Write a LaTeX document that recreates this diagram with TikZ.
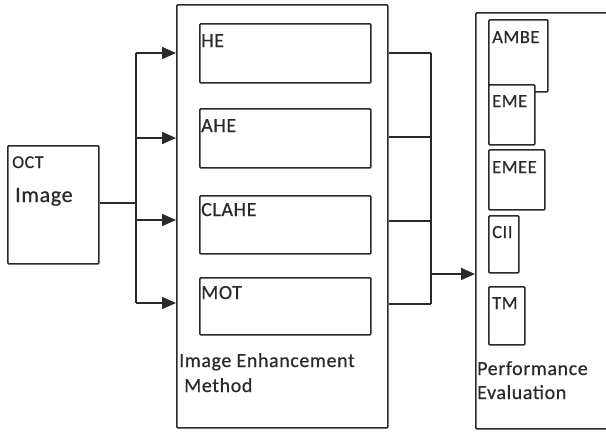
\documentclass[tikz,border=0pt]{standalone}
\usepackage{fontspec}
\setmainfont{Carlito}[LetterSpace=3,FakeBold=0.6]
\usetikzlibrary{arrows.meta}
\definecolor{ln}{HTML}{2A2A2A}
\tikzset{
  box/.style={draw=ln, line width=1.7pt, rounded corners=1pt, inner sep=0pt, anchor=north west},
  lbl/.style={anchor=base west, inner sep=0pt, text=ln, font=\fontsize{20}{23}\selectfont},
  sml/.style={lbl, font=\fontsize{18.5}{21}\selectfont},
  wire/.style={draw=ln, line width=1.7pt},
  arr/.style={wire, -{Triangle[length=14pt,width=12pt]}},
}
\begin{document}
\begin{tikzpicture}[x=1pt,y=-1pt]
\useasboundingbox (0,0) rectangle (606,434);
% OCT box
\node[box, minimum width=91pt, minimum height=118pt] (oct) at (7,145) {};
\node[lbl, font=\fontsize{18}{21}\selectfont] (octt) at (12,168) {OCT};
\node[lbl, font=\fontsize{22}{26}\selectfont] (octi) at (15,202) {Image};
% big box
\node[box, minimum width=211pt, minimum height=423pt] (big) at (176,4) {};
\node[box, minimum width=171pt, minimum height=59pt] (he) at (199,23) {};
\node[box, minimum width=171pt, minimum height=59pt] (ahe) at (199,108) {};
\node[box, minimum width=171pt, minimum height=58pt] (clahe) at (199,195) {};
\node[box, minimum width=171pt, minimum height=57pt] (mot) at (199,277) {};
\node[lbl] (het) at (201,47) {HE};
\node[lbl] (ahet) at (201,132) {AHE};
\node[lbl] (clahet) at (201,216) {CLAHE};
\node[lbl] (mott) at (201,299) {MOT};
\node[lbl] (iem1) at (179,367) {Image Enhancement};
\node[lbl] (iem2) at (184,392) {Method};
% performance box
\node[box, minimum width=150pt, minimum height=416pt] (perf) at (475,12) {};
\node[box, minimum width=59pt, minimum height=72pt] (ambe) at (488,19) {};
\node[box, fill=white, minimum width=46pt, minimum height=60pt] (eme) at (488,84) {};
\node[box, minimum width=56pt, minimum height=60pt] (emee) at (488,149) {};
\node[box, minimum width=30pt, minimum height=57pt] (cii) at (488,215) {};
\node[box, minimum width=36pt, minimum height=58pt] (tm) at (488,286) {};
\node[sml] (ambet) at (492,43) {AMBE};
\node[sml] (emet) at (492,107) {EME};
\node[sml] (emeet) at (492,173) {EMEE};
\node[sml] (ciit) at (492,238) {CII};
\node[sml] (tmt) at (492,309) {TM};
\node[lbl] (pe1) at (477,375) {Performance};
\node[lbl] (pe2) at (477,399) {Evaluation};
% left connectors
\coordinate (j0) at (136,203);
\coordinate (j1) at (136,53);
\coordinate (j2) at (136,138);
\coordinate (j3) at (136,220);
\coordinate (j4) at (136,303);
\draw[wire] (oct.east |- j0) -- (j0);
\draw[wire] (j1) -- (j4);
\draw[arr] (j1) -- (big.west |- j1);
\draw[arr] (j2) -- (big.west |- j2);
\draw[arr] (j3) -- (big.west |- j3);
\draw[arr] (j4) -- (big.west |- j4);
% right connectors
\coordinate (k1) at (431,53);
\coordinate (k2) at (431,137);
\coordinate (k3) at (431,221);
\coordinate (k4) at (431,304);
\coordinate (k0) at (431,274);
\draw[wire] (big.east |- k1) -- (k1);
\draw[wire] (big.east |- k2) -- (k2);
\draw[wire] (big.east |- k3) -- (k3);
\draw[wire] (big.east |- k4) -- (k4);
\draw[wire] (k1) -- (k4);
\draw[arr] (k0) -- (perf.west |- k0);
\end{tikzpicture}
\end{document}
